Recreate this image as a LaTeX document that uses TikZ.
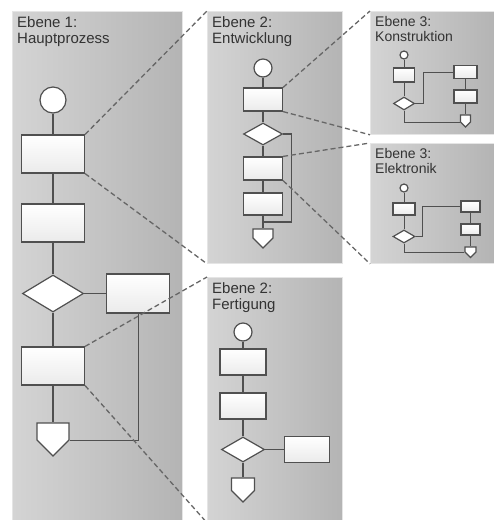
\documentclass[tikz,border=0pt]{standalone}
\usepackage{fontspec}
\setmainfont{Liberation Sans}
\usepackage{tikz}
\usetikzlibrary{
        positioning,
        shapes.geometric,
        shapes.symbols
    }
\definecolor{panelleft}{HTML}{D4D4D4}
\definecolor{panelright}{HTML}{B4B4B4}
\definecolor{ink}{HTML}{505050}
\definecolor{txt}{HTML}{333333}
\definecolor{dash}{HTML}{666666}
\tikzset{
    panel/.style={rectangle,anchor=north west,inner sep=0pt,draw=white!80!gray,line width=0.8pt,left color=panelleft,right color=panelright},
    title/.style={anchor=north west,inner sep=0pt,align=left,text=txt,font=\fontsize{15}{16}\selectfont},
    smalltitle/.style={title,font=\fontsize{14}{15}\selectfont},
    size/.style 2 args={minimum width=#1pt,minimum height=#2pt},
    box/.style={rectangle,draw=ink,line width=1.2pt,inner sep=0pt,top color=white,bottom color=gray!16},
    start/.style={circle,draw=ink,line width=1.2pt,fill=white,inner sep=0pt},
    cond/.style={diamond,draw=ink,line width=1.2pt,fill=white,inner sep=0pt},
    stop/.style={signal,signal to=south,draw=ink,line width=1.2pt,fill=white,inner sep=0pt},
    flow/.style={draw=ink,line width=1.2pt},
    thinflow/.style={draw=ink,line width=0.9pt},
    zoomline/.style={draw=dash,line width=1.3pt,dash pattern=on 5pt off 3pt}
}

\begin{document}
\begin{tikzpicture}[x=1pt,y=-1pt]
    \useasboundingbox (0,0) rectangle (494,520);
    % Ebene 1
    \node[panel,minimum width=170pt,minimum height=512pt] (P1) at (12,11) {};
    \node[title] (t1) at ([shift={(5,5)}]P1.north west) {Ebene 1:\\Hauptprozess};
    \node[start,minimum size=26pt] (h0) at (53,100) {};
    \node[box,size={63}{38}] (h1) at (53,154) {};
    \node[box,size={63}{38}] (h2) at (53,223) {};
    \node[cond,size={61}{37}] (h3) at (53,293.5) {};
    \node[box,size={63}{39}] (h4) [right=22pt of h3] {};
    \node[box,size={63}{38}] (h5) at (53,366) {};
    \node[stop,size={32}{17}] (h6) at (53,431.5) {};
    \draw[flow] (h0) -- (h1) -- (h2) -- (h3) -- (h5) -- (h6);
    \draw[flow] (h3) -- (h4);
    \draw[flow] (h4) |- (h6.south east);
    % Ebene 2: Entwicklung
    \node[panel,minimum width=135pt,minimum height=252pt] (P2) at (207,11) {};
    \node[title] (t2) at ([shift={(5,5)}]P2.north west) {Ebene 2:\\Entwicklung};
    \node[start,minimum size=18pt] (e0) at (263,68) {};
    \node[box,size={39}{23}] (e1) at (263,99.5) {};
    \node[cond,size={39}{22}] (e2) at (263,134) {};
    \node[box,size={39}{23}] (e3) at (263,168.5) {};
    \node[box,size={39}{22}] (e4) at (263,204) {};
    \node[stop,size={20}{9}] (e5) at (263,233.5) {};
    \coordinate (ej) at (263,222);
    \draw[flow] (e0) -- (e1) -- (e2) -- (e3) -- (e4) -- (e5);
    \draw[flow] (e2.east) -- ++(8,0) |- (ej);
    % Ebene 3: Konstruktion
    \node[panel,minimum width=124pt,minimum height=123pt] (P3) at (370,11) {};
    \node[smalltitle] (t3) at ([shift={(5,5)}]P3.north west) {Ebene 3:\\Konstruktion};
    \node[start,minimum size=8pt] (k0) at (404,55) {};
    \node[box,size={21}{14}] (k1) at (404,75) {};
    \node[cond,size={21}{13}] (k2) at (404,103.5) {};
    \node[box,size={23}{13}] (k3) at (465.5,72) {};
    \node[box,size={23}{13}] (k4) at (465.5,96.5) {};
    \node[stop,size={10}{7}] (k5) at (465.5,118.5) {};
    \draw[thinflow] (k0) -- (k1) -- (k2);
    \draw[thinflow] (k3) -- (k4) -- (k5);
    \draw[thinflow] (k2.east) -- ++(8,0) |- (k3);
    \draw[thinflow] (k2) |- (k5.south west);
    % Ebene 3: Elektronik
    \node[panel,minimum width=124pt,minimum height=120pt] (P4) at (370,143) {};
    \node[smalltitle] (t4) at ([shift={(5,5)}]P4.north west) {Ebene 3:\\Elektronik};
    \node[start,minimum size=8pt] (l0) at (404,188) {};
    \node[box,size={22}{12}] (l1) at (404,209) {};
    \node[cond,size={22}{13}] (l2) at (404,236.5) {};
    \node[box,size={19}{11}] (l3) at (470.5,206.5) {};
    \node[box,size={19}{11}] (l4) at (470.5,229.5) {};
    \node[stop,size={11}{5}] (l5) at (470.5,249.5) {};
    \draw[thinflow] (l0) -- (l1) -- (l2);
    \draw[thinflow] (l3) -- (l4) -- (l5);
    \draw[thinflow] (l2.east) -- ++(7,0) |- (l3);
    \draw[thinflow] (l2) |- (l5.south west);
    % Ebene 2: Fertigung
    \node[panel,minimum width=135pt,minimum height=245pt] (P5) at (207,277) {};
    \node[title] (t5) at ([shift={(5,5)}]P5.north west) {Ebene 2:\\Fertigung};
    \node[start,minimum size=18pt] (f0) at (243,332) {};
    \node[box,size={46}{26}] (f1) at (243,362) {};
    \node[box,size={46}{26}] (f2) at (243,406) {};
    \node[cond,size={43}{25}] (f3) at (243,449.5) {};
    \node[box,size={45}{26}] (f4) [right=19pt of f3] {};
    \node[stop,size={23}{12.5}] (f5) at (243,484.25) {};
    \draw[flow] (f0) -- (f1) -- (f2) -- (f3) -- (f5);
    \draw[flow] (f3) -- (f4);
    % zoom lines
    \draw[zoomline] (h1.north east) -- (P2.north west);
    \draw[zoomline] (h1.south east) -- (P2.south west);
    \draw[zoomline] (h5.north east) -- (P5.north west);
    \draw[zoomline] (h5.south east) -- (P5.south west);
    \draw[zoomline] (e1.north east) -- (P3.north west);
    \draw[zoomline] (e1.south east) -- (P3.south west);
    \draw[zoomline] (e3.north east) -- (P4.north west);
    \draw[zoomline] (e3.south east) -- (P4.south west);
\end{tikzpicture}
\end{document}
